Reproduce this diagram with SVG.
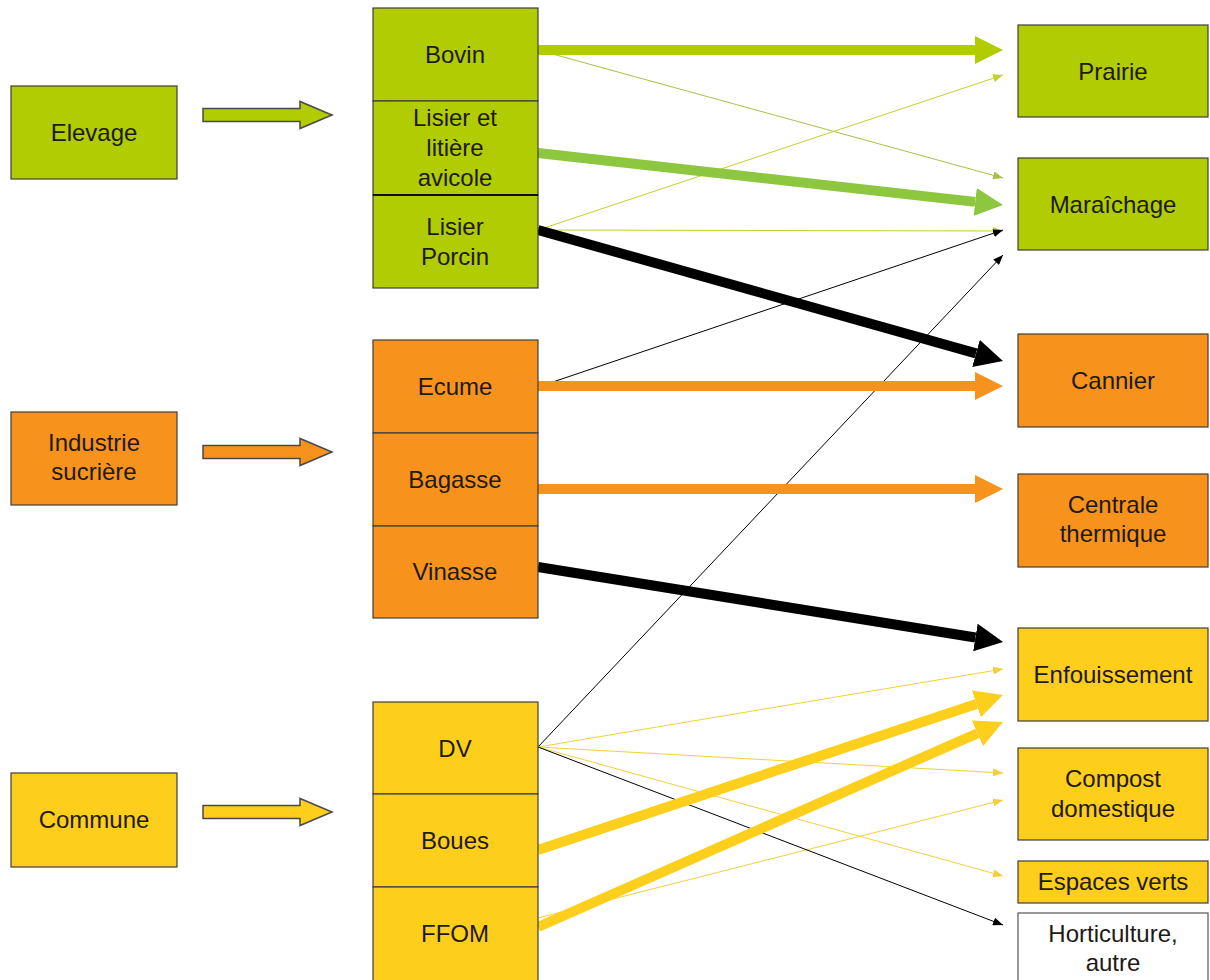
<svg xmlns="http://www.w3.org/2000/svg" width="1210" height="980" viewBox="0 0 1210 980">
<style>
text{font-family:"Liberation Sans",Arial,sans-serif;font-size:24px;text-anchor:middle;fill:#1e1a14}
.g{fill:#B1CC02;stroke:#3e3e3e;stroke-width:1.2}
.o{fill:#F7931C;stroke:#3e3e3e;stroke-width:1.2}
.y{fill:#FDCE1B;stroke:#3e3e3e;stroke-width:1.2}
.w{fill:#ffffff;stroke:#555;stroke-width:1.2}
.ba{stroke:#4a4a4a;stroke-width:1.5}
.thick{fill:none;stroke-width:10;stroke-linecap:butt}
.thin{fill:none;stroke-width:1}
</style>
<defs>
<marker id="hG" markerUnits="userSpaceOnUse" markerWidth="28" markerHeight="28" refX="0" refY="14" orient="auto"><path d="M0,0 L28,14 L0,28 z" fill="#B1CC02"/></marker>
<marker id="hLG" markerUnits="userSpaceOnUse" markerWidth="28" markerHeight="28" refX="0" refY="14" orient="auto"><path d="M0,0 L28,14 L0,28 z" fill="#8DC63F"/></marker>
<marker id="hK" markerUnits="userSpaceOnUse" markerWidth="28" markerHeight="28" refX="0" refY="14" orient="auto"><path d="M0,0 L28,14 L0,28 z" fill="#000"/></marker>
<marker id="hO" markerUnits="userSpaceOnUse" markerWidth="28" markerHeight="28" refX="0" refY="14" orient="auto"><path d="M0,0 L28,14 L0,28 z" fill="#F7931C"/></marker>
<marker id="hY" markerUnits="userSpaceOnUse" markerWidth="28" markerHeight="28" refX="0" refY="14" orient="auto"><path d="M0,0 L28,14 L0,28 z" fill="#FCCF1C"/></marker>
<marker id="tG" markerUnits="userSpaceOnUse" markerWidth="10" markerHeight="8" refX="10" refY="4" orient="auto"><path d="M0,0 L10,4 L0,8 z" fill="#A7C04A"/></marker>
<marker id="tYG" markerUnits="userSpaceOnUse" markerWidth="10" markerHeight="8" refX="10" refY="4" orient="auto"><path d="M0,0 L10,4 L0,8 z" fill="#C2D12C"/></marker>
<marker id="tK" markerUnits="userSpaceOnUse" markerWidth="10" markerHeight="8" refX="10" refY="4" orient="auto"><path d="M0,0 L10,4 L0,8 z" fill="#000"/></marker>
<marker id="tY" markerUnits="userSpaceOnUse" markerWidth="10" markerHeight="8" refX="10" refY="4" orient="auto"><path d="M0,0 L10,4 L0,8 z" fill="#F4CF3C"/></marker>
</defs>

<g id="connectors">
<!-- thin lines -->
<line class="thin" x1="538" y1="50" x2="1003" y2="178" stroke="#A7C04A" marker-end="url(#tG)"/>
<line class="thin" x1="538" y1="230" x2="1003" y2="75" stroke="#C2D12C" marker-end="url(#tYG)"/>
<line class="thin" x1="538" y1="230" x2="1003" y2="231" stroke="#C2D12C" marker-end="url(#tYG)"/>
<line class="thin" x1="538" y1="387" x2="1003" y2="230" stroke="#000" marker-end="url(#tK)"/>
<line class="thin" x1="538" y1="747" x2="1003" y2="255" stroke="#000" marker-end="url(#tK)"/>
<line class="thin" x1="538" y1="747" x2="1003" y2="669" stroke="#F4CF3C" marker-end="url(#tY)"/>
<line class="thin" x1="538" y1="747" x2="1003" y2="773" stroke="#F4CF3C" marker-end="url(#tY)"/>
<line class="thin" x1="538" y1="918" x2="1003" y2="800" stroke="#F4CF3C" marker-end="url(#tY)"/>
<line class="thin" x1="538" y1="747" x2="1003" y2="876" stroke="#F4CF3C" marker-end="url(#tY)"/>
<line class="thin" x1="538" y1="747" x2="1003" y2="925" stroke="#000" marker-end="url(#tK)"/>
<!-- thick arrows -->
<line class="thick" x1="538" y1="50" x2="975" y2="50" stroke="#B1CC02" marker-end="url(#hG)"/>
<line class="thick" x1="538" y1="153" x2="975.2" y2="201.9" stroke="#8DC63F" marker-end="url(#hLG)"/>
<line class="thick" x1="538" y1="230" x2="976" y2="353.4" stroke="#000" marker-end="url(#hK)"/>
<line class="thick" x1="538" y1="386" x2="975" y2="386" stroke="#F7931C" marker-end="url(#hO)"/>
<line class="thick" x1="538" y1="489" x2="975" y2="489" stroke="#F7931C" marker-end="url(#hO)"/>
<line class="thick" x1="538" y1="567" x2="975.4" y2="637.5" stroke="#000" marker-end="url(#hK)"/>
<line class="thick" x1="538" y1="850" x2="976.4" y2="703.9" stroke="#FCCF1C" marker-end="url(#hY)"/>
<line class="thick" x1="538" y1="927" x2="977.4" y2="733.3" stroke="#FCCF1C" marker-end="url(#hY)"/>
<!-- block arrows -->
<polygon class="ba" fill="#B1CC02" points="203,108.5 300,108.5 300,101.5 332,115 300,128.5 300,121.5 203,121.5"/>
<polygon class="ba" fill="#F7931C" points="203,445.5 300,445.5 300,438.5 332,452 300,465.5 300,458.5 203,458.5"/>
<polygon class="ba" fill="#FDCE1B" points="203,805.5 300,805.5 300,798.5 332,812 300,825.5 300,818.5 203,818.5"/>
</g>

<g id="elevage"><rect class="g" x="11" y="86" width="166" height="93"/><text x="94" y="141">Elevage</text></g>
<g id="industrie"><rect class="o" x="11" y="412" width="166" height="93"/><text x="94" y="451">Industrie</text><text x="94" y="480">sucrière</text></g>
<g id="commune"><rect class="y" x="11" y="773" width="166" height="94"/><text x="94" y="828">Commune</text></g>

<g id="bovin"><rect class="g" x="373" y="8" width="165" height="93"/><text x="455" y="63">Bovin</text></g>
<g id="lisier-litiere"><rect class="g" x="373" y="101" width="165" height="94"/><text x="455" y="126">Lisier et</text><text x="455" y="156">litière</text><text x="455" y="186">avicole</text></g>
<g id="lisier-porcin"><rect class="g" x="373" y="195" width="165" height="93"/><text x="455" y="235">Lisier</text><text x="455" y="265">Porcin</text><line x1="373" y1="195" x2="538" y2="195" stroke="#111" stroke-width="2"/></g>

<g id="ecume"><rect class="o" x="373" y="340" width="165" height="93"/><text x="455" y="395">Ecume</text></g>
<g id="bagasse"><rect class="o" x="373" y="433" width="165" height="93"/><text x="455" y="488">Bagasse</text></g>
<g id="vinasse"><rect class="o" x="373" y="526" width="165" height="92"/><text x="455" y="580">Vinasse</text></g>

<g id="dv"><rect class="y" x="373" y="702" width="165" height="92"/><text x="455" y="757">DV</text></g>
<g id="boues"><rect class="y" x="373" y="794" width="165" height="93"/><text x="455" y="849">Boues</text></g>
<g id="ffom"><rect class="y" x="373" y="887" width="165" height="95"/><text x="455" y="942">FFOM</text></g>

<g id="prairie"><rect class="g" x="1018" y="25" width="190" height="92"/><text x="1113" y="80">Prairie</text></g>
<g id="maraichage"><rect class="g" x="1018" y="158" width="190" height="92"/><text x="1113" y="213">Maraîchage</text></g>
<g id="cannier"><rect class="o" x="1018" y="334" width="190" height="93"/><text x="1113" y="389">Cannier</text></g>
<g id="centrale"><rect class="o" x="1018" y="474" width="190" height="93"/><text x="1113" y="513">Centrale</text><text x="1113" y="542">thermique</text></g>
<g id="enfouissement"><rect class="y" x="1018" y="628" width="190" height="93"/><text x="1113" y="683">Enfouissement</text></g>
<g id="compost"><rect class="y" x="1018" y="748" width="190" height="92"/><text x="1113" y="787">Compost</text><text x="1113" y="817">domestique</text></g>
<g id="espaces-verts"><rect class="y" x="1018" y="861" width="190" height="42"/><text x="1113" y="890">Espaces verts</text></g>
<g id="horticulture"><rect class="w" x="1018" y="913" width="190" height="70"/><text x="1113" y="942">Horticulture,</text><text x="1113" y="971">autre</text></g>
</svg>
